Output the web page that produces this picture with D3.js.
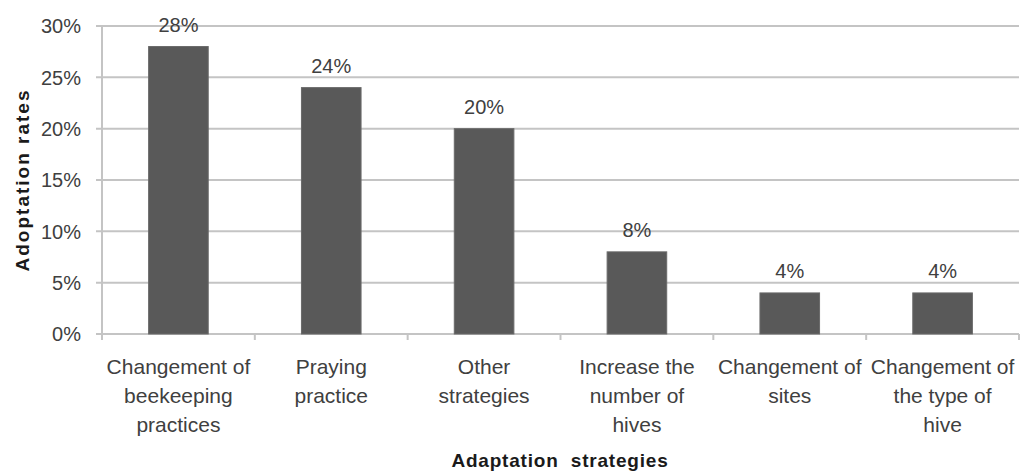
<!DOCTYPE html>
<html>
<head>
<meta charset="utf-8">
<script src="https://cdn.jsdelivr.net/npm/d3@7/dist/d3.min.js"></script>
<style>
  html, body { margin: 0; padding: 0; background: #fff; }
  svg { display: block; }
  text { font-family: "Liberation Sans", Arial, sans-serif; }
</style>
</head>
<body>
<svg id="chart" width="1020" height="472"></svg>
<script>
const categories = [
  "Changement of\nbeekeeping\npractices",
  "Praying\npractice",
  "Other\nstrategies",
  "Increase the\nnumber of\nhives",
  "Changement of\nsites",
  "Changement of\nthe type of\nhive"
];
const values = [0.28, 0.24, 0.20, 0.08, 0.04, 0.04];
const yTicks = [0, 0.05, 0.10, 0.15, 0.20, 0.25, 0.30];
const xTitle = "Adaptation  strategies";
const yTitle = "Adoptation rates";

const svg = d3.select("#chart");
const mLeft = 102, mRight = 1019, mTop = 26, mBottom = 334;

const x = d3.scaleBand().domain(d3.range(categories.length)).range([mLeft, mRight]).paddingInner(0.61).paddingOuter(0.305);
const xb = d3.scaleBand().domain(d3.range(categories.length)).range([mLeft, mRight]);
const y = d3.scaleLinear().domain([0, 0.30]).range([mBottom, mTop]);
const pct = d3.format(".0%");
const grid = "#c4c4c4";
const txt = "#404040";

// gridlines
svg.append("g").selectAll("line").data(yTicks).join("line")
  .attr("x1", mLeft - 6).attr("x2", mRight)
  .attr("y1", d => y(d)).attr("y2", d => y(d))
  .attr("stroke", grid).attr("stroke-width", 2);

// y axis line
svg.append("line").attr("x1", mLeft).attr("x2", mLeft).attr("y1", mTop).attr("y2", mBottom + 6)
  .attr("stroke", grid).attr("stroke-width", 2);

// x tick marks at band boundaries
svg.append("g").selectAll("line").data(d3.range(categories.length)).join("line")
  .attr("x1", d => xb(d) + xb.bandwidth()).attr("x2", d => xb(d) + xb.bandwidth())
  .attr("y1", mBottom).attr("y2", mBottom + 6)
  .attr("stroke", grid).attr("stroke-width", 2);

// y tick labels
svg.append("g").selectAll("text").data(yTicks).join("text")
  .attr("x", 81).attr("y", d => y(d)).attr("dy", "0.36em")
  .attr("text-anchor", "end").attr("font-size", 20).attr("fill", txt)
  .text(d => pct(d));

// bars
svg.append("g").selectAll("rect").data(values).join("rect")
  .attr("x", (d, i) => x(i)).attr("width", x.bandwidth())
  .attr("y", d => y(d)).attr("height", d => y(0) - y(d))
  .attr("fill", "#595959").attr("stroke", "#6a6a6a").attr("stroke-width", 1);

// value labels
svg.append("g").selectAll("text").data(values).join("text")
  .attr("x", (d, i) => x(i) + x.bandwidth() / 2).attr("y", d => y(d) - 15)
  .attr("text-anchor", "middle").attr("font-size", 20).attr("fill", txt)
  .text(d => pct(d));

// category labels
const cat = svg.append("g").selectAll("text").data(categories).join("text")
  .attr("text-anchor", "middle").attr("font-size", 21).attr("fill", txt)
  .attr("transform", (d, i) => `translate(${xb(i) + xb.bandwidth() / 2},374)`);
cat.selectAll("tspan").data(d => d.split("\n")).join("tspan")
  .attr("x", 0).attr("y", (d, j) => j * 29).text(d => d);

// axis titles
svg.append("text").attr("x", 560).attr("y", 467).attr("text-anchor", "middle")
  .attr("font-size", 19).attr("font-weight", "bold").attr("fill", "#1a1a1a")
  .attr("letter-spacing", 0.8)
  .style("white-space", "pre").text(xTitle);
svg.append("text").attr("transform", `translate(29,${(mTop + mBottom) / 2}) rotate(-90)`)
  .attr("text-anchor", "middle").attr("font-size", 19).attr("font-weight", "bold").attr("fill", "#1a1a1a")
  .attr("letter-spacing", 2)
  .text(yTitle);
</script>
</body>
</html>
